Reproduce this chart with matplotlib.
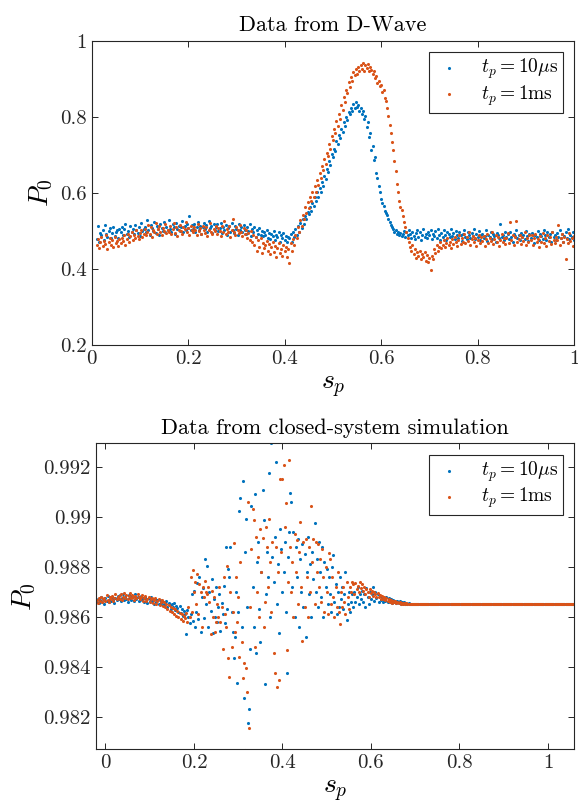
import numpy as np
import matplotlib
matplotlib.use("Agg")
import matplotlib.pyplot as plt
from matplotlib.ticker import FuncFormatter

# --- fonts: LaTeX-like look (Computer Modern) ---
plt.rcParams['font.family'] = ['cmr10', 'DejaVu Serif']
plt.rcParams['mathtext.fontset'] = 'cm'
plt.rcParams['axes.formatter.use_mathtext'] = True

BLUE = '#0072BD'
ORANGE = '#D95319'
AXC = '#262626'

# ---------------------------------------------------------------
# DATA - top panel (D-Wave), P0 in thousandths, s_p from 0.01 step 0.0025
# each row = 20 points = 0.05 in s_p
# ---------------------------------------------------------------
dwave_10us = [
    478, 512, 470, 495, 488, 503, 476, 515, 492, 484, 499, 507, 481, 494, 510, 487, 498, 502, 480, 505,
    496, 510, 489, 504, 517, 493, 500, 485, 512, 498, 506, 491, 515, 502, 495, 509, 487, 520, 499, 504,
    511, 497, 528, 503, 490, 516, 508, 499, 522, 494, 513, 505, 488, 519, 507, 500, 524, 496, 511, 503,
    529, 505, 498, 517, 510, 492, 521, 506, 514, 500, 509, 525, 497, 512, 503, 519, 508, 540, 501, 515,
    506, 518, 497, 511, 523, 502, 514, 493, 509, 520, 504, 516, 498, 527, 507, 512, 495, 518, 503, 510,
    517, 499, 508, 521, 494, 511, 503, 516, 489, 507, 514, 498, 520, 502, 495, 512, 506, 488, 517, 501,
    509, 496, 515, 503, 492, 511, 499, 518, 487, 505, 497, 510, 484, 502, 493, 508, 490, 500, 486, 497,
    489, 503, 481, 495, 478, 492, 486, 500, 475, 490, 483, 497, 472, 488, 480, 494, 477, 486, 471, 484,
    480, 492, 471, 498, 483, 505, 489, 512, 498, 521, 507, 531, 519, 540, 532, 549, 545, 562, 551, 573,
    565, 588, 578, 601, 590, 612, 603, 628, 619, 645, 636, 662, 655, 683, 672, 701, 694, 716, 709, 735,
    728, 751, 744, 768, 760, 785, 776, 799, 792, 812, 806, 824, 815, 833, 822, 838, 826, 831, 816, 824,
    808, 815, 793, 801, 774, 785, 748, 757, 712, 724, 686, 694, 652, 640, 618, 603, 585, 574, 566, 551,
    546, 541, 532, 524, 515, 511, 504, 498, 502, 493, 497, 488, 495, 486, 492, 500, 484, 496, 489, 503,
    491, 482, 498, 487, 479, 494, 502, 485, 496, 476, 490, 505, 484, 493, 480, 497, 488, 503, 478, 492,
    486, 499, 481, 506, 490, 477, 495, 484, 502, 488, 475, 497, 491, 483, 504, 486, 494, 479, 500, 489,
    482, 496, 488, 473, 492, 503, 485, 478, 497, 490, 481, 494, 486, 506, 479, 491, 484, 499, 476, 489,
    493, 480, 487, 501, 474, 490, 484, 497, 479, 492, 486, 472, 495, 488, 481, 518, 483, 490, 477, 496,
    485, 491, 478, 498, 484, 470, 493, 487, 502, 480, 489, 476, 495, 483, 490, 479, 499, 486, 474, 492,
    481, 494, 488, 467, 490, 483, 500, 477, 492, 486, 479, 503, 488, 475, 496, 484, 491, 472, 497, 485,
    489, 476, 494, 483, 501, 480, 492, 471, 487, 498, 482, 505, 478, 490, 485, 496, 475, 488, 493, 480,
]
dwave_1ms = [
    462, 478, 455, 470, 483, 459, 474, 466, 488, 452, 471, 480, 463, 476, 458, 485, 469, 474, 461, 479,
    468, 482, 473, 489, 464, 478, 493, 471, 486, 497, 476, 490, 482, 501, 487, 478, 495, 503, 484, 492,
    506, 488, 498, 515, 493, 509, 484, 502, 497, 521, 491, 505, 512, 496, 489, 507, 500, 517, 494, 503,
    498, 512, 491, 506, 520, 495, 509, 487, 503, 516, 499, 492, 510, 504, 524, 496, 508, 490, 513, 501,
    496, 511, 503, 488, 517, 499, 507, 492, 514, 501, 495, 509, 486, 503, 520, 497, 491, 506, 499, 512,
    493, 508, 500, 487, 514, 498, 525, 491, 505, 497, 512, 484, 503, 530, 496, 489, 509, 501, 494, 515,
    498, 486, 507, 492, 503, 481, 495, 477, 499, 470, 488, 462, 484, 448, 476, 457, 480, 441, 468, 455,
    462, 473, 447, 466, 438, 458, 470, 445, 461, 432, 456, 468, 441, 452, 434, 463, 447, 458, 430, 451,
    415, 468, 447, 478, 462, 490, 481, 510, 497, 528, 514, 541, 530, 562, 547, 575, 561, 590, 578, 601,
    589, 618, 602, 634, 621, 652, 638, 671, 659, 690, 676, 704, 697, 728, 716, 750, 739, 768, 757, 788,
    776, 806, 795, 831, 818, 852, 839, 871, 862, 891, 878, 905, 893, 918, 909, 925, 912, 930, 921, 936,
    926, 940, 921, 935, 928, 938, 919, 932, 924, 912, 920, 903, 908, 890, 895, 880, 884, 866, 871, 850,
    842, 822, 801, 778, 758, 733, 712, 684, 657, 624, 603, 578, 562, 556, 538, 522, 510, 496, 481, 470,
    458, 447, 462, 438, 451, 429, 444, 433, 448, 425, 440, 431, 445, 422, 437, 418, 428, 397, 435, 426,
    452, 441, 463, 448, 457, 470, 454, 462, 475, 458, 467, 481, 463, 472, 455, 478, 466, 484, 470, 461,
    476, 488, 465, 480, 471, 492, 468, 483, 474, 497, 462, 478, 486, 470, 481, 459, 475, 490, 467, 484,
    473, 487, 461, 479, 492, 468, 482, 474, 496, 465, 478, 489, 470, 485, 459, 477, 493, 472, 481, 466,
    480, 494, 469, 522, 476, 488, 463, 483, 527, 471, 479, 490, 466, 484, 474, 497, 462, 481, 470, 488,
    475, 489, 464, 481, 493, 470, 478, 457, 486, 472, 495, 468, 480, 461, 490, 474, 483, 466, 498, 477,
    469, 484, 476, 515, 462, 480, 491, 471, 485, 425, 478, 467, 494, 473, 482, 460, 487, 430, 479, 471,
]

# ---------------------------------------------------------------
# DATA - bottom panel (simulation), P0 in units of 1e-5,
# s_p from -0.02 step 0.0025 up to 0.7275, then flat tail to 1.06
# ---------------------------------------------------------------
sim_10us = [
    98660, 98672, 98655, 98668, 98679, 98661, 98670, 98652, 98676, 98665, 98684, 98659, 98671, 98663, 98680, 98668, 98657, 98675, 98666, 98682,
    98670, 98686, 98664, 98677, 98691, 98669, 98681, 98673, 98659, 98688, 98675, 98667, 98684, 98678, 98662, 98690, 98671, 98680, 98665, 98676,
    98683, 98668, 98675, 98660, 98679, 98671, 98656, 98674, 98664, 98680, 98658, 98669, 98653, 98672, 98661, 98666, 98650, 98668, 98657, 98663,
    98648, 98660, 98652, 98665, 98641, 98656, 98646, 98633, 98650, 98638, 98655, 98629, 98645, 98636, 98620, 98642, 98614, 98632, 98605, 98624,
    98612, 98530, 98626, 98598, 98575, 98610, 98690, 98585, 98705, 98560, 98620, 98735, 98590, 98760, 98540, 98680, 98715, 98595, 98830, 98650,
    98805, 98560, 98700, 98625, 98750, 98535, 98670, 98598, 98720, 98580, 98640, 98690, 98545, 98655, 98610, 98725, 98575, 98880, 98630, 98790,
    98760, 98878, 98620, 98540, 98434, 98520, 98700, 98334, 98620, 99024, 99074, 98560, 99143, 98274, 98860, 98990, 98640, 98174, 98231, 98470,
    99043, 98720, 98560, 99090, 98456, 98820, 98900, 98630, 98499, 98780, 99107, 98987, 98331, 98690, 98860, 98760, 99174, 98600, 99294, 98840,
    98740, 98920, 99218, 98650, 98810, 98534, 98950, 98870, 98700, 98780, 98900, 98620, 98374, 98840, 98940, 99096, 99060, 98720, 98940, 98600,
    98880, 98760, 98910, 98560, 98830, 98700, 98890, 98640, 98850, 98520, 98780, 98920, 98690, 98810, 98600, 98860, 98750, 98976, 98700, 98830,
    98640, 98900, 98780, 98680, 98880, 98600, 98820, 98720, 98790, 98650, 98760, 98690, 98620, 98800, 98847, 98660, 98730, 98610, 98700, 98640,
    98760, 98670, 98720, 98630, 98690, 98780, 98587, 98650, 98700, 98620, 98660, 98690, 98640, 98700, 98660, 98680, 98720, 98650, 98690, 98670,
    98705, 98660, 98690, 98640, 98715, 98680, 98650, 98700, 98670, 98690, 98720, 98665, 98700, 98675, 98690, 98660, 98685, 98668, 98680, 98660,
    98672, 98664, 98680, 98658, 98675, 98661, 98670, 98656, 98668, 98660, 98665, 98654, 98664, 98657, 98662, 98653, 98659, 98655, 98658, 98652,
    98656, 98652, 98655, 98651, 98653, 98650, 98652, 98651, 98650, 98651, 98650, 98650, 98651, 98650, 98650, 98650, 98650, 98650, 98650, 98650,
]
sim_1ms = [
    98668, 98655, 98674, 98662, 98681, 98658, 98670, 98677, 98664, 98686, 98669, 98660, 98678, 98672, 98683, 98665, 98676, 98690, 98670, 98679,
    98684, 98673, 98691, 98667, 98680, 98694, 98676, 98686, 98670, 98682, 98696, 98675, 98688, 98679, 98668, 98685, 98674, 98690, 98681, 98670,
    98678, 98688, 98665, 98676, 98684, 98662, 98673, 98680, 98660, 98670, 98677, 98655, 98668, 98674, 98650, 98663, 98671, 98648, 98660, 98666,
    98645, 98658, 98640, 98652, 98632, 98648, 98625, 98640, 98618, 98636, 98612, 98630, 98605, 98622, 98598, 98615, 98590, 98610, 98585, 98603,
    98595, 98615, 98580, 98640, 98600, 98760, 98620, 98787, 98700, 98740, 98650, 98770, 98610, 98730, 98700, 98560, 98720, 98680, 98745, 98700,
    98690, 98720, 98660, 98531, 98705, 98600, 98680, 98540, 98580, 98650, 98600, 98720, 98580, 98640, 98470, 98760, 98610, 98560, 98802, 98434,
    98360, 98700, 98480, 98620, 98894, 98540, 98760, 98580, 98680, 98440, 98820, 98500, 98354, 98414, 98067, 98394, 98300, 99060, 98156, 98640,
    98870, 99030, 98987, 98480, 98920, 98700, 98840, 98600, 98950, 98780, 98914, 98560, 98660, 98960, 98880, 98720, 98990, 98820, 98620, 98900,
    98456, 98374, 98880, 98318, 98780, 98347, 99151, 98860, 99151, 99207, 98960, 99054, 98467, 98740, 99227, 98880, 98700, 98820, 98600, 98930,
    98780, 98907, 98650, 98860, 98980, 98720, 98504, 98900, 98640, 98910, 98760, 98600, 98880, 98700, 99043, 98820, 98910, 98650, 98900, 98780,
    98890, 98720, 98830, 98660, 98870, 98760, 98620, 98800, 98700, 98610, 98856, 98833, 98650, 98760, 98680, 98600, 98720, 98640, 98780, 98620,
    98573, 98700, 98640, 98720, 98660, 98610, 98740, 98680, 98630, 98720, 98700, 98740, 98730, 98690, 98735, 98710, 98725, 98700, 98740, 98715,
    98730, 98705, 98720, 98690, 98712, 98700, 98680, 98710, 98695, 98705, 98685, 98700, 98690, 98678, 98695, 98680, 98688, 98672, 98684, 98670,
    98678, 98666, 98674, 98662, 98670, 98660, 98668, 98657, 98664, 98658, 98662, 98655, 98660, 98654, 98658, 98653, 98656, 98652, 98655, 98651,
    98654, 98651, 98653, 98650, 98652, 98651, 98650, 98651, 98650, 98650, 98651, 98650, 98650, 98650, 98650, 98650, 98650, 98650, 98650, 98650,
]
sim_tail_value = 98650  # both runs settle on the same value after s_p ~ 0.73

# sampling grids
STEP = 0.0025
p_top_10us = np.array(dwave_10us) / 1000
p_top_1ms = np.array(dwave_1ms) / 1000
s_top_10us = 0.01 + STEP * np.arange(len(p_top_10us))
s_top_1ms = 0.01 + STEP * np.arange(len(p_top_1ms))

s_tail = np.arange(0.73, 1.06 + 1e-9, STEP)
p_bot_10us = np.concatenate([sim_10us, np.full(len(s_tail), sim_tail_value)]) / 1e5
p_bot_1ms = np.concatenate([sim_1ms, np.full(len(s_tail), sim_tail_value)]) / 1e5
s_bot_10us = np.concatenate([-0.02 + STEP * np.arange(len(sim_10us)), s_tail])
s_bot_1ms = np.concatenate([-0.02 + STEP * np.arange(len(sim_1ms)), s_tail])

LBL_10US = r'$t_p = 10\mu\mathrm{s}$'
LBL_1MS = r'$t_p = 1\mathrm{ms}$'
DOT = 5

fmt = FuncFormatter(lambda v, pos: '%g' % round(v, 6))


def style_axes(ax):
    for sp in ax.spines.values():
        sp.set_color(AXC)
        sp.set_linewidth(0.8)
    ax.tick_params(direction='in', top=True, right=True, length=4, width=0.7,
                   colors=AXC, labelsize=15, labelcolor='#262626')
    ax.xaxis.set_major_formatter(fmt)
    ax.yaxis.set_major_formatter(fmt)
    ax.set_xlabel(r'$s_p$', fontsize=20, labelpad=4)
    ax.set_ylabel(r'$P_0$', fontsize=20, labelpad=4)
    leg = ax.legend(loc='upper right', bbox_to_anchor=(0.977, 0.963), borderaxespad=0,
                    fontsize=14, fancybox=False, framealpha=1, edgecolor=AXC,
                    handlelength=1.5, handletextpad=0.9, borderpad=0.25, labelspacing=0.1)
    leg.get_frame().set_linewidth(0.8)


fig = plt.figure(figsize=(5.78, 8.10), dpi=100)

# ---- top: D-Wave ----
ax1 = fig.add_axes([0.1587, 0.5741, 0.8344, 0.3757])
ax1.scatter(s_top_10us, p_top_10us, s=DOT, color=BLUE, linewidths=0, label=LBL_10US)
ax1.scatter(s_top_1ms, p_top_1ms, s=DOT, color=ORANGE, linewidths=0, label=LBL_1MS)
ax1.set_xlim(0, 1)
ax1.set_ylim(0.2, 1)
ax1.set_xticks([0, 0.2, 0.4, 0.6, 0.8, 1])
ax1.set_yticks([0.2, 0.4, 0.6, 0.8, 1])
ax1.set_title('Data from D-Wave', fontsize=16, pad=7)
style_axes(ax1)

# ---- bottom: closed-system simulation ----
ax2 = fig.add_axes([0.1656, 0.0747, 0.8275, 0.3780])
ax2.scatter(s_bot_10us, p_bot_10us, s=DOT, color=BLUE, linewidths=0, label=LBL_10US)
ax2.scatter(s_bot_1ms, p_bot_1ms, s=DOT, color=ORANGE, linewidths=0, label=LBL_1MS)
ax2.set_xlim(-0.022, 1.059)
ax2.set_ylim(0.98069, 0.99294)
ax2.set_xticks([0, 0.2, 0.4, 0.6, 0.8, 1])
ax2.set_yticks([0.982, 0.984, 0.986, 0.988, 0.99, 0.992])
ax2.set_title('Data from closed-system simulation', fontsize=16, pad=7)
style_axes(ax2)

plt.savefig('out.png', dpi=100)
